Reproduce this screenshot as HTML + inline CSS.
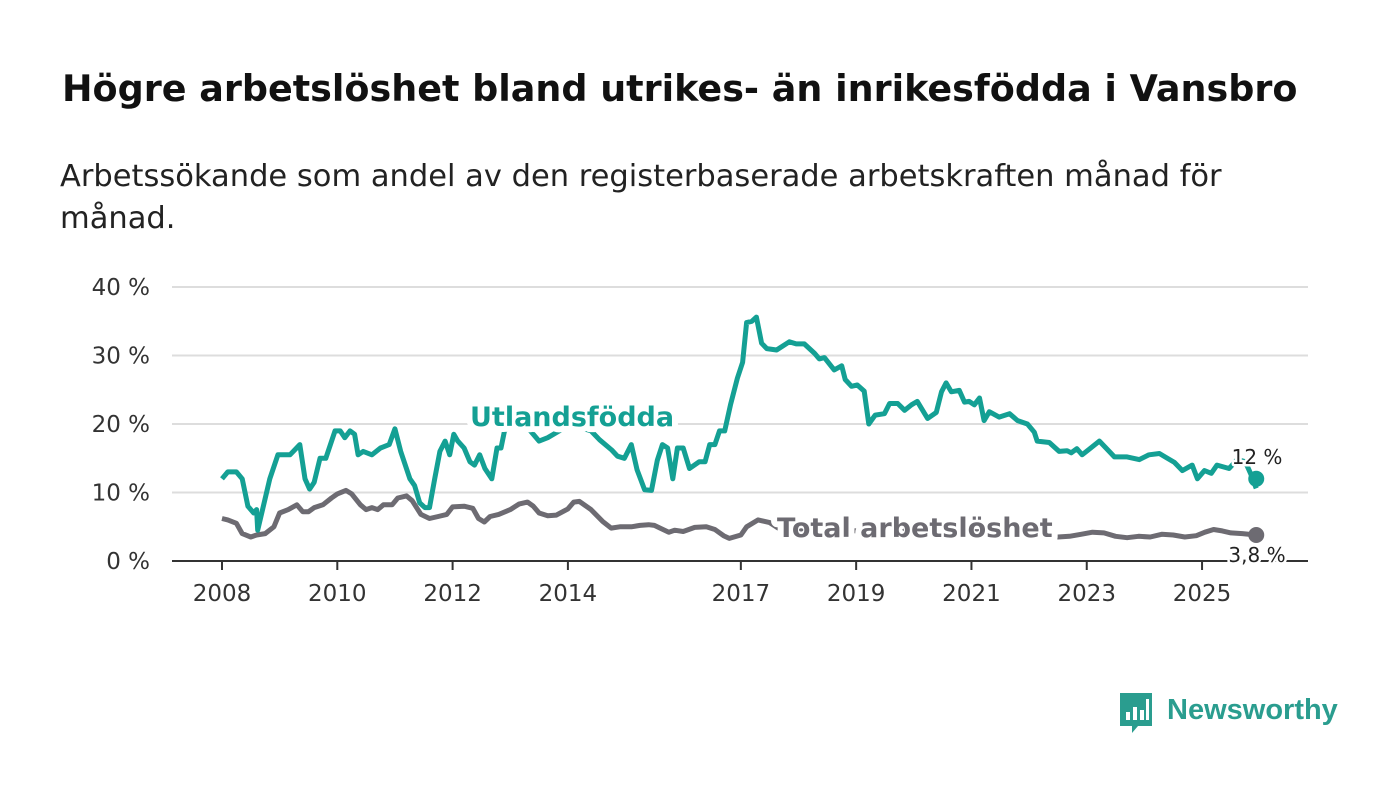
<!DOCTYPE html>
<html><head><meta charset="utf-8"><style>
body{margin:0;background:#fff;font-family:"Liberation Sans",sans-serif;}
svg text{font-family:"DejaVu Sans","Liberation Sans",sans-serif;}
</style></head><body>
<svg id="c" width="1400" height="794" viewBox="0 0 1400 794">
<text x="62" y="101" font-size="36.5" font-weight="bold" fill="#111">Högre arbetslöshet bland utrikes- än inrikesfödda i Vansbro</text>
<text x="60" y="186" font-size="30.5" fill="#222">Arbetssökande som andel av den registerbaserade arbetskraften månad för</text>
<text x="60" y="228" font-size="30.5" fill="#222">månad.</text>
<g id="grid"></g><g id="lines"></g>
<g>
<path d="M1120 693h32v33h-14l-6 7v-7h-12z" fill="#2a9d8f"/>
<rect x="1126" y="712" width="4" height="8" fill="#fff"/><rect x="1133" y="707" width="4" height="13" fill="#fff"/><rect x="1140" y="710" width="4" height="10" fill="#fff"/><rect x="1146" y="699" width="3" height="21" fill="#fff"/>
<text x="1167" y="719" font-size="29" fill="#2a9d8f" font-weight="bold" style="font-family:'Liberation Sans',sans-serif">Newsworthy</text>
</g>
</svg>
<script>
const ticksY=[0,10,20,30,40];
const ticksX=[2008,2010,2012,2014,2017,2019,2021,2023,2025];
const utT=[2008,2008.1,2008.25,2008.35,2008.45,2008.55,2008.6,2008.62,2008.83,2008.97,2009.18,2009.35,2009.44,2009.52,2009.6,2009.7,2009.8,2009.96,2010.05,2010.13,2010.22,2010.3,2010.36,2010.45,2010.6,2010.75,2010.9,2011,2011.1,2011.26,2011.34,2011.43,2011.52,2011.6,2011.69,2011.78,2011.87,2011.95,2012.02,2012.09,2012.2,2012.3,2012.38,2012.47,2012.56,2012.68,2012.77,2012.84,2012.9,2013.05,2013.2,2013.35,2013.5,2013.65,2013.85,2014,2014.2,2014.4,2014.55,2014.76,2014.86,2014.98,2015.1,2015.2,2015.33,2015.45,2015.55,2015.64,2015.73,2015.82,2015.9,2016,2016.11,2016.28,2016.38,2016.46,2016.55,2016.63,2016.72,2016.82,2016.94,2017.03,2017.1,2017.19,2017.27,2017.36,2017.45,2017.62,2017.84,2017.96,2018.1,2018.28,2018.36,2018.45,2018.62,2018.75,2018.81,2018.92,2019.02,2019.14,2019.22,2019.33,2019.49,2019.58,2019.72,2019.84,2019.96,2020.06,2020.24,2020.39,2020.48,2020.56,2020.65,2020.79,2020.88,2020.96,2021.05,2021.14,2021.22,2021.31,2021.48,2021.66,2021.8,2021.97,2022.09,2022.14,2022.35,2022.52,2022.66,2022.73,2022.83,2022.92,2023.04,2023.22,2023.39,2023.48,2023.7,2023.91,2024.08,2024.26,2024.38,2024.52,2024.66,2024.83,2024.92,2025.04,2025.16,2025.26,2025.47,2025.61,2025.75,2025.85,2025.94];
const utV=[12,13,13,12,8,7,7.5,4.5,12,15.5,15.5,17,12,10.5,11.5,15,15,19,19,18,19,18.5,15.5,16,15.5,16.5,17,19.3,16,12,11,8.5,7.8,7.8,12,16,17.5,15.5,18.5,17.5,16.5,14.5,14,15.5,13.5,12,16.5,16.5,19,20,20.5,19,17.5,18,19,20,19.5,19,17.7,16.2,15.3,15,17,13.3,10.4,10.3,14.7,17,16.5,12,16.5,16.5,13.5,14.5,14.5,17,17,19,19,22.8,26.7,29,34.8,35,35.6,31.8,31,30.8,32,31.7,31.7,30.3,29.5,29.7,27.9,28.5,26.5,25.5,25.7,24.8,20,21.3,21.5,23,23,22,22.8,23.3,20.8,21.7,24.7,26,24.7,24.9,23.2,23.3,22.8,23.8,20.5,21.8,21,21.5,20.5,20,18.8,17.5,17.3,16,16.1,15.8,16.4,15.5,16.3,17.5,16,15.2,15.2,14.8,15.5,15.7,15.1,14.4,13.2,14,12,13.2,12.8,14,13.5,14.8,14.5,12.6,10.6,12,12];
const toT=[2008,2008.1,2008.25,2008.35,2008.5,2008.6,2008.75,2008.9,2009,2009.15,2009.3,2009.4,2009.5,2009.6,2009.75,2009.9,2010,2010.15,2010.25,2010.4,2010.5,2010.6,2010.7,2010.8,2010.95,2011.05,2011.2,2011.3,2011.45,2011.6,2011.75,2011.9,2012,2012.2,2012.35,2012.45,2012.55,2012.65,2012.8,2013,2013.15,2013.3,2013.4,2013.5,2013.65,2013.8,2014,2014.1,2014.2,2014.4,2014.6,2014.75,2014.9,2015.1,2015.25,2015.4,2015.5,2015.6,2015.75,2015.85,2016,2016.2,2016.4,2016.55,2016.7,2016.8,2017,2017.1,2017.3,2017.5,2017.65,2017.8,2018.1,2018.5,2019,2019.5,2020,2020.5,2021,2021.5,2022,2022.35,2022.5,2022.7,2022.9,2023.1,2023.3,2023.5,2023.7,2023.9,2024.1,2024.3,2024.5,2024.7,2024.9,2025.05,2025.2,2025.35,2025.5,2025.7,2025.94];
const toV=[6.2,6,5.5,4,3.5,3.8,4,5,7,7.5,8.2,7.2,7.2,7.8,8.2,9.2,9.8,10.3,9.8,8.2,7.5,7.8,7.5,8.2,8.2,9.2,9.5,8.8,6.8,6.2,6.5,6.8,7.9,8,7.7,6.2,5.7,6.5,6.8,7.5,8.3,8.6,8,7,6.6,6.7,7.6,8.6,8.7,7.5,5.8,4.8,5,5,5.2,5.3,5.2,4.8,4.2,4.5,4.3,4.9,5,4.6,3.7,3.3,3.8,5,6,5.6,4.8,4.3,4.5,4.6,4.4,4.5,4.7,4.5,4.3,4.2,4,3.8,3.5,3.6,3.9,4.2,4.1,3.6,3.4,3.6,3.5,3.9,3.8,3.5,3.7,4.2,4.6,4.4,4.1,4,3.8];
const NS='http://www.w3.org/2000/svg';
const X=t=>222+(t-2008)*57.65, Y=v=>561-v*6.85;
const grid=document.getElementById('grid'), lines=document.getElementById('lines');
function mk(tag,attrs,parent){const e=document.createElementNS(NS,tag);for(const k in attrs)e.setAttribute(k,attrs[k]);parent.appendChild(e);return e;}
ticksY.forEach(v=>{
 if(v>0){const l=mk('line',{x1:172,x2:1308,y1:Y(v),y2:Y(v),stroke:'#ddd','stroke-width':2},grid);
 
 }
 const t=mk('text',{x:150,y:Y(v)+8,'font-size':23,fill:'#333','text-anchor':'end'},grid);t.textContent=v+' %';
 
 
});
const ax=mk('line',{x1:172,x2:1308,y1:561,y2:561,stroke:'#333','stroke-width':2},grid);


ticksX.forEach(y=>{
 mk('line',{x1:X(y),x2:X(y),y1:561,y2:570,stroke:'#333','stroke-width':2},grid);
 const t=mk('text',{x:X(y),y:601,'font-size':23,fill:'#333','text-anchor':'middle'},grid);t.textContent=y;
 
 
});
function line(T,V,col,name){
 const d=T.map((t,i)=>(i?'L':'M')+X(t).toFixed(1)+' '+Y(V[i]).toFixed(1)).join('');
 const p=mk('path',{d:d,fill:'none',stroke:col,'stroke-width':5,'stroke-linejoin':'round'},lines);
 
 
 const c=mk('circle',{cx:X(T[T.length-1]),cy:Y(V[V.length-1]),r:8,fill:col},lines);
 
 
}
line(toT,toV,'#6d6b72','series-total');
line(utT,utV,'#14a094','series-utlandsfodda');
function lab(x,y,txt,col,size,w,name,anchor){
 const t=mk('text',{x:x,y:y,'font-size':size,'font-weight':w,fill:col,stroke:'#fff','stroke-width':w=='bold'?12:5,'paint-order':'stroke','stroke-linejoin':'round','text-anchor':anchor||'start'},lines);
 t.textContent=txt;
 
 
}
lab(470,426,'Utlandsfödda','#14a094',27,'bold','label-utlandsfodda');
lab(777,537,'Total arbetslöshet','#6d6b72',27,'bold','label-total');
lab(1257,464,'12 %','#222',20,'normal','end-label-utlandsfodda','middle');
lab(1257,562,'3,8 %','#222',20,'normal','end-label-total','middle');
</script>
</body></html>
